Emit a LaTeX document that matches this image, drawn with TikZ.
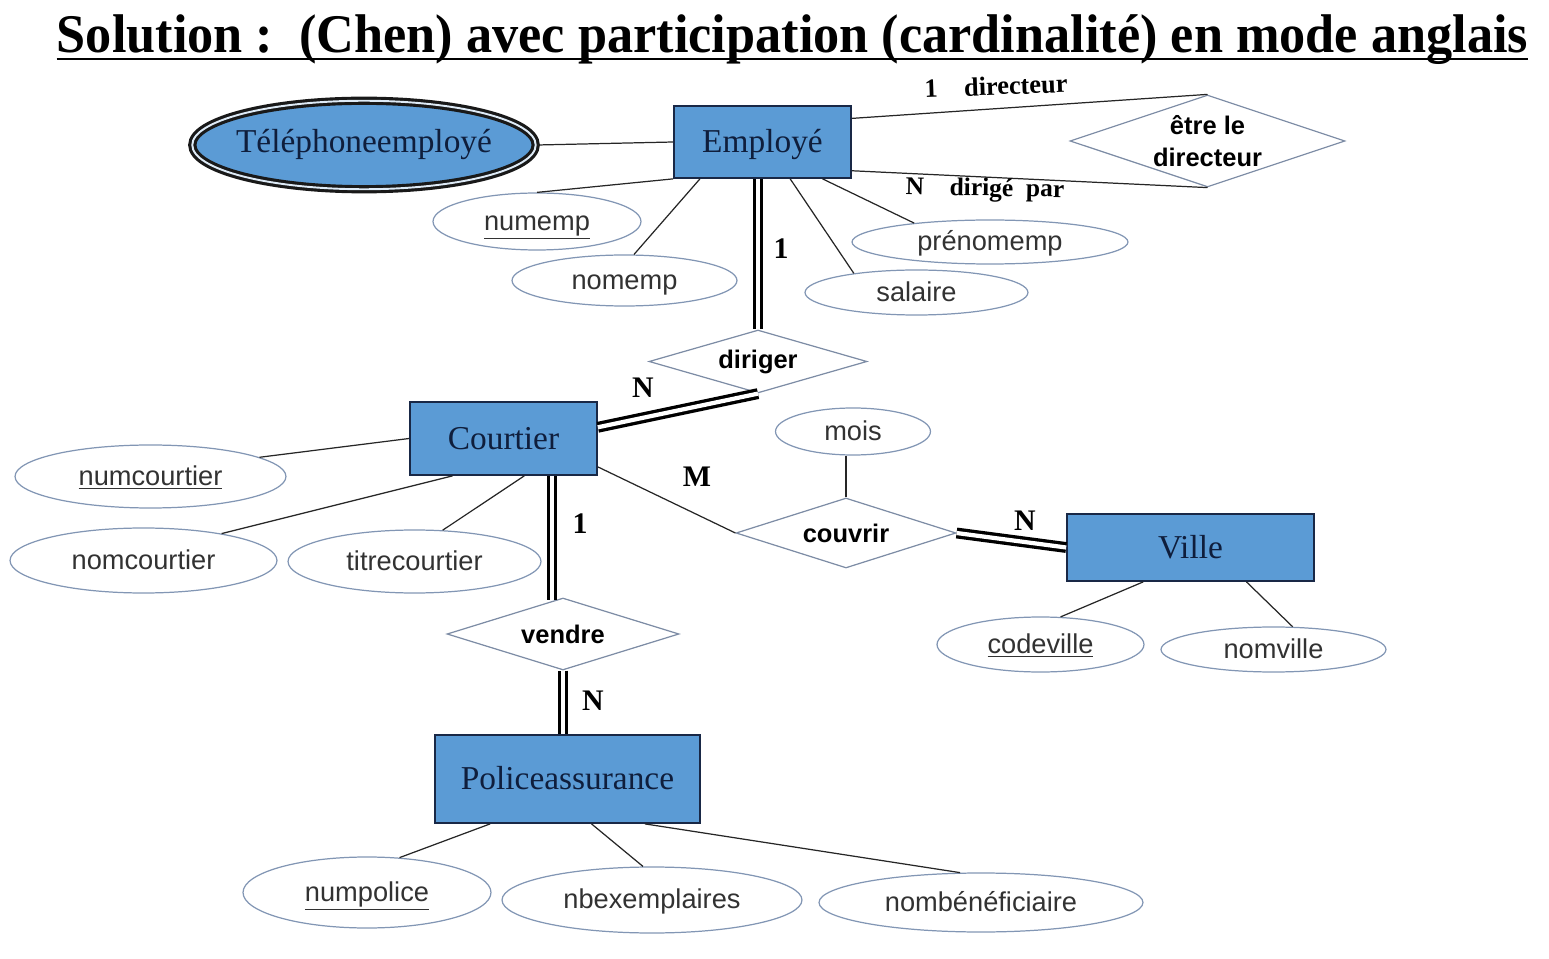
\documentclass[tikz,border=0pt]{standalone}
\usepackage{fontspec}
\setmainfont{Liberation Serif}
\setsansfont{Liberation Sans}
\usetikzlibrary{shapes.geometric, calc}
\definecolor{entbleu}{RGB}{91,155,213}
\definecolor{entbord}{RGB}{25,40,70}
\definecolor{enttexte}{RGB}{15,30,60}
\definecolor{attbord}{RGB}{130,150,180}
\definecolor{atttexte}{RGB}{50,50,50}
\definecolor{relbord}{RGB}{125,140,165}

\begin{document}
\begin{tikzpicture}[x=0.02cm, y=-0.02cm,
  entite/.style={rectangle, draw=entbord, line width=1pt, fill=entbleu, text=enttexte, text height=12.5pt, text depth=0pt, font=\fontsize{19}{22}\selectfont},
  attribut/.style={ellipse, draw=attbord, line width=0.7pt, text=atttexte, inner sep=0pt, text height=10pt, text depth=0pt, font=\sffamily\fontsize{15.5}{18}\selectfont},
  multival/.style={ellipse, draw=black!90, line width=1.8pt, double=white!80!entbleu, double distance=1.1pt, fill=entbleu, text=enttexte, inner sep=0pt, font=\fontsize{19}{22}\selectfont},
  relation/.style={diamond, draw=relbord, line width=0.7pt, inner sep=0pt, shape aspect=3, font=\sffamily\bfseries\fontsize{14.5}{18}\selectfont},
  taille/.style 2 args={minimum width=#1cm, minimum height=#2cm},
  lien/.style={draw=black!85, line width=0.7pt},
  total/.style={line width=1.9pt, double=white, double distance=2.4pt},
  card/.style={font=\bfseries\fontsize{17}{19}\selectfont},
  role/.style={font=\bfseries\fontsize{15}{17}\selectfont}]
  \useasboundingbox (0,0) rectangle (1549,959);

  % Titre
  \node[font=\bfseries\fontsize{31}{34}\selectfont, xscale=0.96, anchor=base, inner sep=0pt] (titre) at (792.5,53)
    {Solution :\ \ (Chen) avec participation (cardinalité) en mode anglais};
  \draw[line width=0.9pt] ($(titre.base west)+(0,6)$) -- ($(titre.base east)+(0,6)$);

  % Employé
  \node[entite, taille={3.54}{1.44}] (emp) at (762.5,142) {Employé};
  \node[multival, taille={6.87}{1.77}] (tel) at (364,145) {\makebox[0pt]{Téléphoneemployé}};
  \node[relation, taille={5.5}{1.84}, align=center] (etre) at (1207.5,141) {être le\\directeur};
  \node[attribut, taille={4.16}{1.14}] (numemp) at (537,221.5) {\underline{numemp}};
  \node[attribut, taille={4.5}{1.02}] (nomemp) at (624.5,280.5) {nomemp};
  \node[attribut, taille={5.52}{0.88}] (prenom) at (990,242) {prénomemp};
  \node[attribut, taille={4.46}{0.9}] (salaire) at (916.5,292.5) {salaire};

  % Courtier
  \node[relation, taille={4.36}{1.26}] (dir) at (758,361.5) {diriger};
  \node[entite, taille={3.74}{1.46}] (court) at (503.5,438.5) {Courtier};
  \node[attribut, taille={5.42}{1.26}] (numcourtier) at (150.5,476.5) {\underline{numcourtier}};
  \node[attribut, taille={5.34}{1.3}] (nomcourtier) at (143.5,560.5) {nomcourtier};
  \node[attribut, taille={5.06}{1.26}] (titrecourtier) at (414.5,561.5) {titrecourtier};

  % Ville
  \node[relation, taille={4.4}{1.4}] (couv) at (846,533) {couvrir};
  \node[attribut, taille={3.1}{0.94}] (mois) at (853,431.5) {mois};
  \node[entite, taille={4.94}{1.34}] (ville) at (1190.5,547.5) {Ville};
  \node[attribut, taille={4.14}{1.1}] (codeville) at (1040.5,644.5) {\underline{codeville}};
  \node[attribut, taille={4.5}{0.9}] (nomville) at (1273.5,649.5) {nomville};

  % Policeassurance
  \node[relation, taille={4.64}{1.44}] (vend) at (563,634) {vendre};
  \node[entite, taille={5.3}{1.76}] (pol) at (567.5,779) {Policeassurance};
  \node[attribut, taille={4.96}{1.42}] (numpolice) at (367,892.5) {\underline{numpolice}};
  \node[attribut, taille={6.0}{1.32}] (nbex) at (652,900) {nbexemplaires};
  \node[attribut, taille={6.48}{1.18}] (nombenef) at (981,902.5) {nombénéficiaire};

  % Liens
  \draw[lien] (tel.east) -- (emp.west);
  \draw[lien] ($(emp.north east)!0.18!(emp.south east)$) -- (etre.north);
  \draw[lien] ($(emp.north east)!0.89!(emp.south east)$) -- (etre.south);
  \draw[lien] (emp.south west) -- (numemp.north);
  \draw[lien] ($(emp.south west)!0.15!(emp.south east)$) -- (nomemp.70);
  \draw[lien] ($(emp.south west)!0.655!(emp.south east)$) -- (salaire.163);
  \draw[lien] ($(emp.south west)!0.836!(emp.south east)$) -- (prenom.166);
  \draw[lien] (court.west) -- (numcourtier.10);
  \draw[lien] ($(court.south west)!0.23!(court.south east)$) -- (nomcourtier.19);
  \draw[lien] ($(court.south west)!0.61!(court.south east)$) -- (titrecourtier.48);
  \draw[lien] ($(court.north east)!0.88!(court.south east)$) -- (couv.west);
  \draw[lien] (couv.north) -- (couv.north |- mois.south);
  \draw[lien] ($(ville.south west)!0.31!(ville.south east)$) -- (codeville.54);
  \draw[lien] ($(ville.south west)!0.725!(ville.south east)$) -- (nomville.50);
  \draw[lien] ($(pol.south west)!0.21!(pol.south east)$) -- (numpolice.47);
  \draw[lien] ($(pol.south west)!0.59!(pol.south east)$) -- (nbex.105);
  \draw[lien] ($(pol.south west)!0.79!(pol.south east)$) -- (nombenef.125);

  % Participation totale
  \coordinate (vn) at ($(vend.north)+(-11,3)$);
  \draw[total] (emp.south -| dir.north) -- (dir.north);
  \draw[total] (dir.south) -- ($(court.north east)!0.35!(court.south east)$);
  \draw[total] (vn |- court.south) -- (vn);
  \draw[total] (vend.south) -- (vend.south |- pol.north);
  \draw[total] (couv.east) -- (ville.west);

  % Cardinalités
  \node[card] (c1emp) at (781,249) {1};
  \node[card] (cNcourt) at (643,388) {N};
  \node[card] (cMcourt) at (697,477) {M};
  \node[card] (c1court) at (580,524) {1};
  \node[card] (cNville) at (1025,521) {N};
  \node[card] (cNpol) at (593,701) {N};
  \node[role, rotate=2] (rdirecteur) at (996,86) {1\quad directeur};
  \node[role, font=\bfseries\fontsize{14.5}{17}\selectfont, rotate=-1] (rdirige) at (985,190) {N\quad dirigé\ \ par};
\end{tikzpicture}
\end{document}
